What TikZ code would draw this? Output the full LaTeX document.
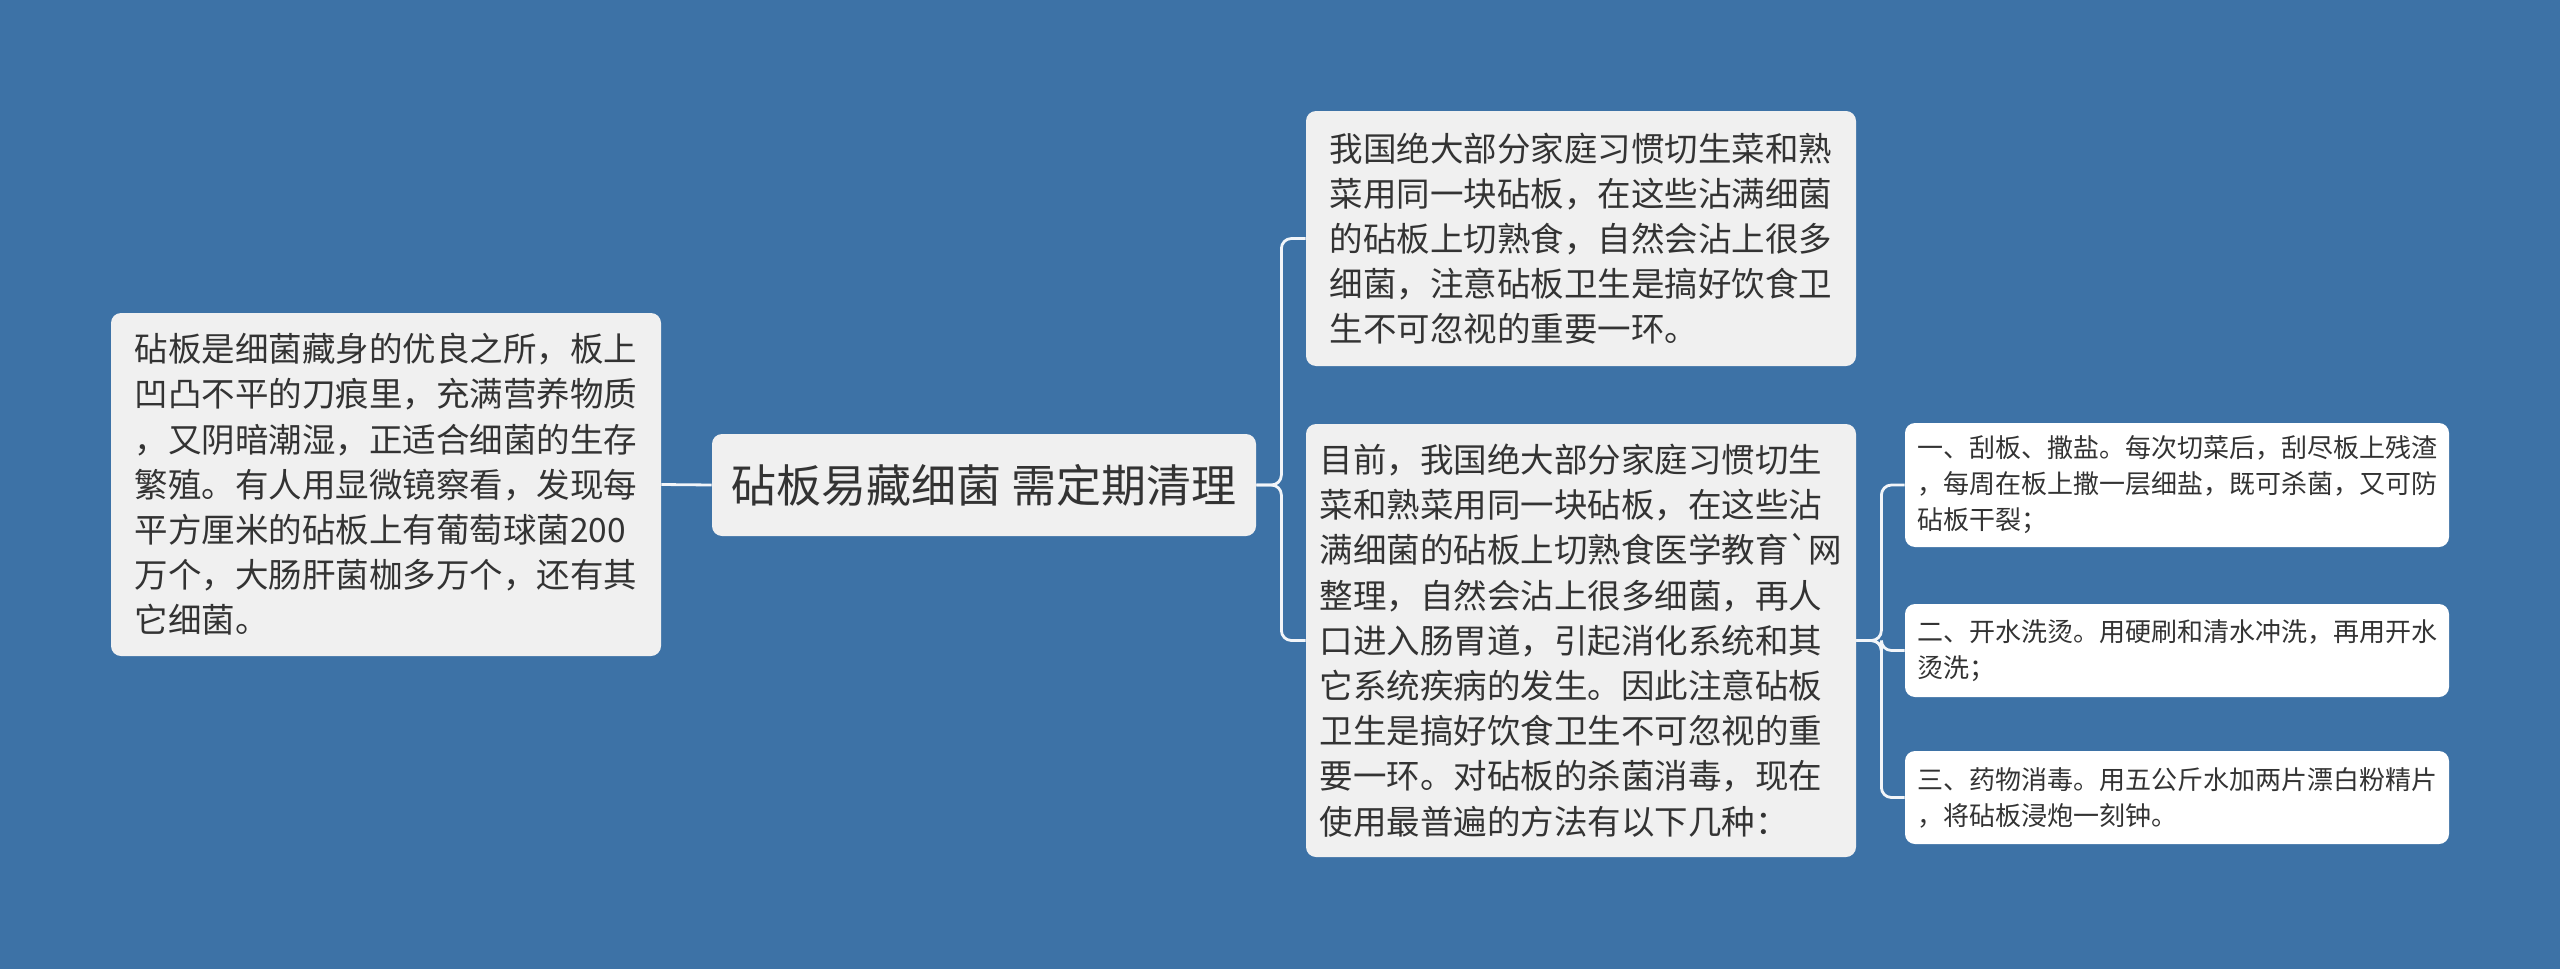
\documentclass[tikz,border=0pt]{standalone}
\usepackage{fontspec}
\newfontfamily\cjk{Noto Sans CJK SC}
\usepackage{tikz}
\usetikzlibrary{positioning}

\definecolor{bgblue}{HTML}{3D72A6}
\definecolor{boxgray}{HTML}{F0F0F0}
\definecolor{inkgray}{HTML}{333333}
\definecolor{linkwhite}{HTML}{F2F5F9}

\begin{document}
\begin{tikzpicture}[x=0.5pt,y=-0.5pt,
    card/.style={fill=boxgray,rounded corners=5pt,inner sep=0pt,align=left,text=inkgray},
    topic/.style={card,font=\cjk\fontsize{22.5}{28}\selectfont},
    para/.style={card,font=\cjk\fontsize{16.75}{22.6}\selectfont},
    leaf/.style={card,fill=white,font=\cjk\fontsize{13}{18}\selectfont},
    link/.style={draw=linkwhite,line width=1.4pt,rounded corners=5pt}]
  \fill[bgblue] (0,0) rectangle (2560,969);
  \useasboundingbox (0,0) rectangle (2560,969);

  % centre and left side
  \node[topic,minimum width=272pt,minimum height=51pt] (root) at (984,485) {砧板易藏细菌 需定期清理};
  \node[para,minimum width=275pt,minimum height=171.5pt] (hide) at (386,484.5) {砧板是细菌藏身的优良之所，板上\\凹凸不平的刀痕里，充满营养物质\\，又阴暗潮湿，正适合细菌的生存\\繁殖。有人用显微镜察看，发现每\\平方厘米的砧板上有葡萄球菌200\\万个，大肠肝菌枷多万个，还有其\\它细菌。};

  % right side
  \node[para,minimum width=275pt,minimum height=127.5pt] (habit) at (1581,238.5) {我国绝大部分家庭习惯切生菜和熟\\菜用同一块砧板，在这些沾满细菌\\的砧板上切熟食，自然会沾上很多\\细菌，注意砧板卫生是搞好饮食卫\\生不可忽视的重要一环。};
  \node[para,minimum width=275pt,minimum height=216.5pt] (now) at (1581,640.5) {目前，我国绝大部分家庭习惯切生\\菜和熟菜用同一块砧板，在这些沾\\满细菌的砧板上切熟食医学教育`网\\整理，自然会沾上很多细菌，再人\\口进入肠胃道，引起消化系统和其\\它系统疾病的发生。因此注意砧板\\卫生是搞好饮食卫生不可忽视的重\\要一环。对砧板的杀菌消毒，现在\\使用最普遍的方法有以下几种：};

  % methods
  \node[leaf,minimum width=272pt,minimum height=62pt] (salt) at (2177,485) {一、刮板、撒盐。每次切菜后，刮尽板上残渣\\，每周在板上撒一层细盐，既可杀菌，又可防\\砧板干裂；};
  \node[leaf,minimum width=272pt,minimum height=46.5pt] (boil) at (2177,650.5) {二、开水洗烫。用硬刷和清水冲洗，再用开水\\烫洗；};
  \node[leaf,minimum width=272pt,minimum height=46.5pt] (drug) at (2177,797.5) {三、药物消毒。用五公斤水加两片漂白粉精片\\，将砧板浸炮一刻钟。};

  \draw[link] (hide.east) -- (root.west);
  \draw[link] (root.east) -- ++(25,0) |- (habit.west);
  \draw[link] (root.east) -- ++(25,0) |- (now.west);
  \draw[link] (now.east) -- ++(25,0) |- (salt.west);
  \draw[link] (now.east) -- ++(25,0) |- (boil.west);
  \draw[link] (now.east) -- ++(25,0) |- (drug.west);
\end{tikzpicture}
\end{document}
